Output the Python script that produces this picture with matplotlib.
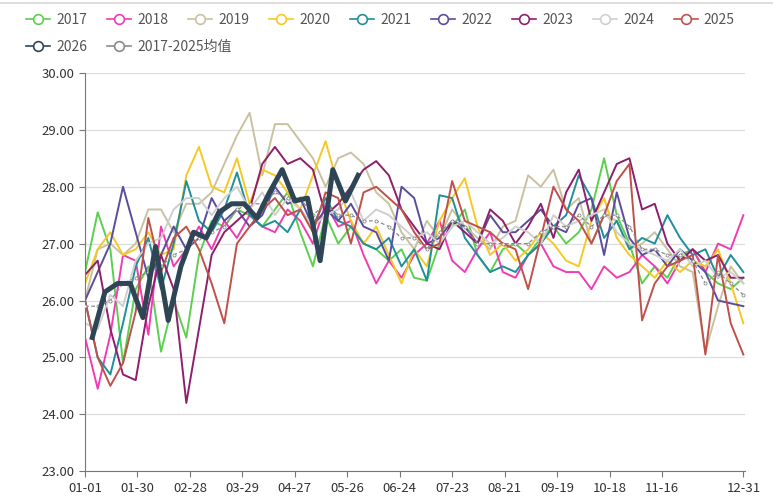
import numpy as np
import matplotlib.pyplot as plt
from matplotlib.lines import Line2D

plt.rcParams['font.family'] = ['Noto Sans CJK SC', 'DejaVu Sans']

# weekly points, day-of-year offsets
days = np.arange(0, 365, 7)
days_2026 = np.arange(4, 4 + 7 * 22, 7)

tick_days = [0, 29, 58, 87, 116, 145, 174, 203, 232, 261, 290, 319, 364]
tick_labels = ['01-01', '01-30', '02-28', '03-29', '04-27', '05-26', '06-24',
               '07-23', '08-21', '09-19', '10-18', '11-16', '12-31']

y2017 = [26.5, 27.55, 26.9, 24.9, 26.2, 26.6, 25.1, 26.0, 25.35, 26.8, 27.4, 27.3, 27.6,
         27.5, 27.3, 27.6, 27.9, 27.2, 26.6, 27.5, 27.0, 27.3, 27.0, 26.9, 26.7, 26.9,
         26.4, 26.35, 27.0, 27.3, 27.6, 26.8, 26.5, 26.9, 27.0, 26.8, 27.1, 27.3, 27.0,
         27.2, 27.6, 28.5, 27.5, 27.0, 26.3, 26.6, 26.4, 26.8, 26.9, 26.5, 26.3, 26.2, 26.4]
y2018 = [25.35, 24.45, 25.4, 26.8, 26.7, 25.4, 27.3, 26.6, 26.9, 27.3, 26.9, 27.4, 27.1,
         27.5, 27.3, 27.2, 27.6, 27.4, 27.0, 27.7, 27.3, 27.4, 26.8, 26.3, 26.7, 26.4,
         26.8, 27.0, 27.4, 26.7, 26.5, 26.9, 27.2, 26.5, 26.4, 26.8, 27.0, 26.6, 26.5,
         26.5, 26.2, 26.6, 26.4, 26.5, 26.8, 26.6, 26.3, 26.7, 26.9, 26.5, 27.0, 26.9, 27.5]
y2019 = [26.0, 26.9, 27.0, 26.8, 27.0, 27.6, 27.6, 27.2, 27.7, 27.7, 27.9, 28.4, 28.9,
         29.3, 28.2, 29.1, 29.1, 28.8, 28.5, 28.0, 28.5, 28.6, 28.4, 27.9, 27.7, 27.2,
         26.9, 27.4, 27.1, 27.6, 27.3, 27.1, 26.9, 27.3, 27.4, 28.2, 28.0, 28.3, 27.6,
         27.8, 27.0, 27.5, 27.4, 26.9, 27.0, 27.2, 26.9, 26.6, 26.5, 25.1, 25.9, 26.6, 26.3]
y2020 = [26.3, 26.9, 27.2, 26.8, 26.9, 27.2, 26.8, 26.9, 28.2, 28.7, 28.0, 27.9, 28.5,
         27.7, 28.3, 28.2, 27.9, 27.6, 28.2, 28.8, 28.0, 27.4, 27.0, 27.3, 26.8, 26.3,
         26.9, 26.6, 27.4, 27.8, 28.15, 27.3, 26.8, 27.0, 26.7, 26.9, 27.2, 27.0, 26.7,
         26.6, 27.4, 27.8, 27.1, 26.8, 26.6, 26.4, 26.7, 26.5, 26.7, 26.6, 26.9, 26.3, 25.6]
y2021 = [26.0, 25.0, 24.7, 25.6, 26.6, 27.1, 26.2, 27.0, 28.1, 27.4, 27.2, 27.6, 28.25,
         27.5, 27.3, 27.4, 27.2, 27.6, 27.3, 27.8, 27.4, 27.3, 27.0, 26.9, 27.1, 26.6,
         26.9, 26.35, 27.85, 27.8, 27.1, 26.8, 26.5, 26.6, 26.5, 26.8, 27.0, 27.3, 27.5,
         28.2, 27.8, 27.1, 27.4, 26.9, 27.1, 27.0, 27.5, 27.1, 26.8, 26.9, 26.4, 26.8, 26.5]
y2022 = [26.0, 26.5, 27.0, 28.0, 27.2, 26.4, 26.8, 27.3, 26.9, 27.1, 27.8, 27.4, 27.6,
         27.3, 27.5, 28.0, 27.7, 27.8, 27.3, 27.6, 27.4, 27.7, 27.3, 27.2, 26.7, 28.0,
         27.8, 27.0, 27.1, 27.4, 27.3, 27.0, 27.5, 27.2, 27.2, 27.4, 27.6, 27.3, 27.2,
         27.7, 27.8, 26.8, 27.9, 27.1, 26.8, 26.9, 26.6, 26.9, 26.7, 26.5, 26.0, 25.95, 25.9]
y2023 = [26.45, 26.7, 25.5, 24.7, 24.6, 25.9, 26.8, 26.2, 24.2, 25.5, 26.8, 27.2, 27.4,
         27.6, 28.4, 28.7, 28.4, 28.5, 28.3, 27.5, 27.7, 28.0, 28.3, 28.45, 28.2, 27.6,
         27.3, 27.0, 26.9, 27.4, 27.2, 27.0, 27.6, 27.4, 27.0, 27.3, 27.7, 27.1, 27.9,
         28.3, 27.4, 27.9, 28.4, 28.5, 27.6, 27.7, 27.0, 26.7, 26.9, 26.7, 26.8, 26.4, 26.4]
y2024 = [25.6, 25.5, 26.1, 25.9, 26.7, 27.0, 27.1, 27.6, 27.8, 27.8, 27.5, 27.8, 28.0,
         27.6, 27.9, 27.5, 27.8, 27.6, 27.3, 27.5, 27.6, 27.9, 27.4, 27.6, 27.5, 27.3,
         27.1, 27.2, 27.0, 27.3, 27.4, 27.2, 27.0, 27.1, 27.3, 27.2, 27.0, 27.5, 27.3,
         27.4, 27.5, 27.6, 27.2, 27.0, 26.9, 26.8, 26.7, 26.9, 26.6, 26.7, 26.4, 26.5, 26.3]
y2025 = [26.0, 25.0, 24.5, 24.9, 25.8, 27.45, 26.5, 27.1, 27.3, 26.9, 26.3, 25.6, 27.0,
         27.3, 27.6, 27.8, 27.5, 27.6, 27.2, 27.9, 27.8, 27.0, 27.9, 28.0, 27.8, 27.6,
         27.2, 26.9, 27.0, 28.1, 27.4, 27.3, 27.2, 27.0, 26.9, 26.2, 27.1, 28.0, 27.6,
         27.4, 27.0, 27.5, 28.1, 28.4, 25.65, 26.3, 26.6, 26.7, 26.8, 25.05, 26.8, 25.6, 25.05]
y2026 = [25.35, 26.15, 26.3, 26.3, 25.7, 26.95, 25.65, 26.6, 27.2, 27.1, 27.55, 27.7,
         27.7, 27.45, 27.9, 28.3, 27.75, 27.8, 26.7, 28.3, 27.75, 28.2]
y_mean = [25.9, 25.9, 26.0, 26.3, 26.4, 26.5, 26.6, 26.8, 26.9, 27.1, 27.2, 27.3, 27.6,
          27.7, 27.7, 27.9, 27.8, 27.8, 27.5, 27.7, 27.5, 27.5, 27.4, 27.4, 27.3, 27.1,
          27.1, 26.9, 27.2, 27.4, 27.3, 27.0, 27.0, 27.0, 27.0, 27.0, 27.2, 27.3, 27.3,
          27.5, 27.3, 27.5, 27.5, 27.3, 26.9, 26.9, 26.8, 26.8, 26.7, 26.3, 26.5, 26.3, 26.1]

years = ['2017', '2018', '2019', '2020', '2021', '2022', '2023', '2024', '2025']
series = [y2017, y2018, y2019, y2020, y2021, y2022, y2023, y2024, y2025]
colors = ['#5ccf4f', '#f03cb4', '#c8c2a0', '#f7c824', '#1f8f9a', '#5b4c9e',
          '#8e1f6e', '#cfcfcf', '#c0504a']
c2026 = '#2e4555'
cmean = '#8a8a8a'

fig = plt.figure(figsize=(7.73, 4.96), dpi=100)
ax = fig.add_axes([0.110, 0.050, 0.854, 0.803])

# thin frame line at the very top of the image
fig.add_artist(Line2D([0, 1], [0.994, 0.994], color='#d8d8d8', lw=1.2))

for name, ys, c in zip(years, series, colors):
    ax.plot(days, ys, color=c, lw=1.4, zorder=2)
ax.plot(days, y_mean, color=cmean, lw=0.9, ls=(0, (3, 2)), marker='o', ms=2.2,
        mfc='white', mew=0.6, zorder=3)
ax.plot(days_2026, y2026, color=c2026, lw=3.6, zorder=4, solid_joinstyle='round')

ax.set_xlim(0, 365)
ax.set_ylim(23, 30)
ax.set_yticks(np.arange(23, 31, 1))
ax.set_yticklabels(['%.2f' % v for v in np.arange(23, 31, 1)])
ax.set_xticks(tick_days)
ax.set_xticklabels(tick_labels)
ax.grid(axis='y', color='#dddddd', lw=0.9)
ax.set_axisbelow(True)
for s in ['top', 'right']:
    ax.spines[s].set_visible(False)
for s in ['left', 'bottom']:
    ax.spines[s].set_color('#777777')
ax.tick_params(axis='both', colors='#777777', labelcolor='#333333', labelsize=9.5, length=4)

# legend, two rows
def handle(c):
    return Line2D([], [], color=c, lw=1.2, marker='o', ms=7, mfc='white', mec=c, mew=1.2)

h1 = [handle(c) for c in colors]
leg1 = fig.legend(h1, years, ncol=9, loc='upper left', bbox_to_anchor=(0.018, 1.0),
                  frameon=False, fontsize=10, handlelength=1.7, handletextpad=0.45,
                  columnspacing=1.45, labelcolor='#555555')
h2 = [handle(c2026), handle(cmean)]
leg2 = fig.legend(h2, ['2026', '2017-2025均值'], ncol=2, loc='upper left',
                  bbox_to_anchor=(0.018, 0.945), frameon=False, fontsize=10,
                  handlelength=1.7, handletextpad=0.45, columnspacing=1.45,
                  labelcolor='#555555')

fig.savefig('out.png', dpi=100)
